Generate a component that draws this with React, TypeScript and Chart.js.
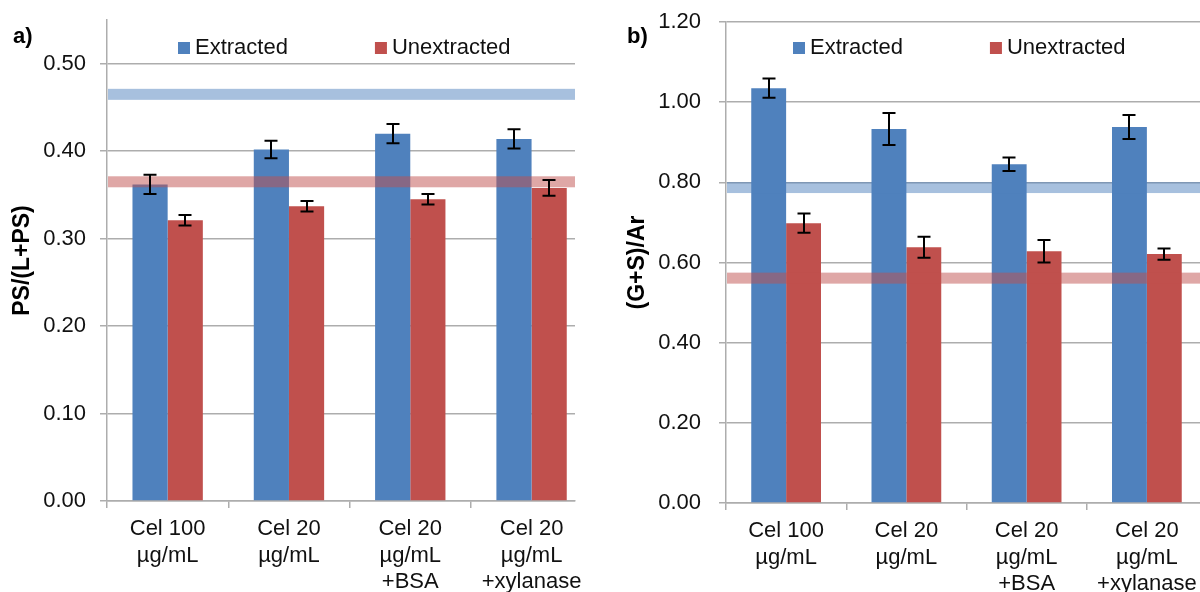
import React, { useEffect, useRef } from "react";
import { Chart, registerables } from "chart.js";

Chart.register(...registerables);

// ---------- data ----------
const categories = [
  ["Cel 100", "µg/mL"],
  ["Cel 20", "µg/mL"],
  ["Cel 20", "µg/mL", "+BSA"],
  ["Cel 20", "µg/mL", "+xylanase"],
];
const seriesNames = ["Extracted", "Unextracted"];

// panel a) PS/(L+PS)
const psExtracted = [0.362, 0.402, 0.42, 0.414];
const psExtractedErr = [0.011, 0.01, 0.011, 0.011];
const psUnextracted = [0.321, 0.337, 0.345, 0.358];
const psUnextractedErr = [0.006, 0.006, 0.006, 0.009];
const psReference = [0.465, 0.365]; // extracted, unextracted reference levels
const psAxis = { min: 0, max: 0.55, step: 0.1 };

// panel b) (G+S)/Ar
const gsExtracted = [1.035, 0.933, 0.845, 0.938];
const gsExtractedErr = [0.024, 0.04, 0.017, 0.03];
const gsUnextracted = [0.698, 0.638, 0.628, 0.621];
const gsUnextractedErr = [0.024, 0.026, 0.028, 0.014];
const gsReference = [0.787, 0.561];
const gsAxis = { min: 0, max: 1.2, step: 0.2 };

// ---------- styles ----------
const BLUE = "#4F81BD";
const RED = "#C0504D";
const BANDS = ["rgba(79,129,189,0.5)", "rgba(192,80,77,0.5)"];
const GRID = "#adadad";
const FONT = '"Liberation Sans", Arial, sans-serif';
const TEXT = "#111";

function makePlugin(refs: number[], errs: number[][], tag: string, tagX: number, legendOffset: number) {
  return {
    id: "decor",
    afterDatasetsDraw(chart: any) {
      const { ctx, chartArea: ca } = chart;
      const y = chart.scales.y;
      ctx.save();
      // reference bands
      refs.forEach((v, i) => {
        const py = y.getPixelForValue(v);
        ctx.fillStyle = BANDS[i];
        ctx.fillRect(ca.left + 1, py - 5.5, ca.right - ca.left - 1, 11);
      });
      // error bars
      ctx.strokeStyle = "#000";
      ctx.lineWidth = 2;
      chart.data.datasets.forEach((ds: any, di: number) => {
        const meta = chart.getDatasetMeta(di);
        meta.data.forEach((bar: any, i: number) => {
          const v = ds.data[i];
          const e = errs[di][i];
          const x = Math.round(bar.x);
          const t = y.getPixelForValue(v + e);
          const b = y.getPixelForValue(v - e);
          ctx.beginPath();
          ctx.moveTo(x, t);
          ctx.lineTo(x, b);
          ctx.moveTo(x - 6.5, t);
          ctx.lineTo(x + 6.5, t);
          ctx.moveTo(x - 6.5, b);
          ctx.lineTo(x + 6.5, b);
          ctx.stroke();
        });
      });
      // legend
      ctx.font = `22px ${FONT}`;
      ctx.textBaseline = "alphabetic";
      let bx = ca.left + legendOffset;
      chart.data.datasets.forEach((ds: any) => {
        ctx.fillStyle = ds.backgroundColor;
        ctx.fillRect(bx, 42, 12, 12);
        ctx.fillStyle = TEXT;
        ctx.fillText(ds.label, bx + 17, 54);
        bx += 17 + ctx.measureText(ds.label).width + 87;
      });
      // panel tag
      ctx.font = `bold 22px ${FONT}`;
      ctx.fillStyle = "#000";
      ctx.fillText(tag, tagX, 43);
      ctx.restore();
    },
  };
}

function makeConfig(p: any) {
  return {
    type: "bar",
    data: {
      labels: categories,
      datasets: [
        { label: seriesNames[0], data: p.ext, backgroundColor: BLUE },
        { label: seriesNames[1], data: p.unext, backgroundColor: RED },
      ],
    },
    options: {
      animation: false,
      responsive: false,
      maintainAspectRatio: false,
      events: [],
      layout: { padding: { left: p.padLeft, right: p.padRight, top: p.padTop, bottom: 0 } },
      datasets: { bar: { categoryPercentage: 0.58, barPercentage: 1 } },
      plugins: { legend: { display: false }, tooltip: { enabled: false } },
      scales: {
        x: {
          grid: { offset: true, drawOnChartArea: false, drawTicks: true, tickLength: 7, color: GRID, lineWidth: 1.5 },
          border: { color: GRID, width: 1.5 },
          ticks: { font: { family: FONT, size: 22, lineHeight: 1.2 }, color: TEXT, padding: 8, maxRotation: 0, autoSkip: false },
          afterFit: (s: any) => {
            s.height = p.xHeight;
          },
          afterBuildTicks: (s: any) => {
            if (p.xRange) s._valueRange = p.xRange;
          },
        },
        y: {
          min: p.axis.min,
          max: p.axis.max,
          ticks: {
            stepSize: p.axis.step,
            includeBounds: false,
            callback: (v: number) => Number(v).toFixed(2),
            font: { family: FONT, size: 22 },
            color: TEXT,
            padding: p.yPad,
          },
          grid: { color: GRID, lineWidth: 1.5, tickLength: 7 },
          border: { color: GRID, width: 1.5 },
          title: {
            display: true,
            text: p.title,
            font: { family: FONT, size: 23, weight: "bold", lineHeight: 1.2 },
            color: "#000",
            padding: { top: 4, bottom: 4 },
          },
          afterFit: (s: any) => {
            s.width = p.yWidth;
            s.paddingTop = 0;
            s.paddingBottom = 0;
          },
        },
      },
    },
    plugins: [makePlugin(p.refs, p.errs, p.tag, p.tagX, p.legendOffset)],
  };
}

function Panel(props: any) {
  const ref = useRef<HTMLCanvasElement>(null);
  useEffect(() => {
    const chart = new Chart(ref.current as any, makeConfig(props.cfg) as any);
    return () => chart.destroy();
  }, []);
  return (
    <canvas
      ref={ref}
      width={props.width}
      height={592}
      style={{ position: "absolute", left: props.left, top: 0, width: props.width, height: 592, display: "block" }}
    />
  );
}

const panelA = {
  ext: psExtracted,
  unext: psUnextracted,
  errs: [psExtractedErr, psUnextractedErr],
  refs: psReference,
  axis: psAxis,
  title: "PS/(L+PS)",
  tag: "a)",
  tagX: 13,
  padLeft: 5,
  yWidth: 102,
  padRight: 25,
  padTop: 20,
  xHeight: 91,
  yPad: 14,
  xRange: 3.858,
  legendOffset: 71,
};

const panelB = {
  ext: gsExtracted,
  unext: gsUnextracted,
  errs: [gsExtractedErr, gsUnextractedErr],
  refs: gsReference,
  axis: gsAxis,
  title: "(G+S)/Ar",
  tag: "b)",
  tagX: 27,
  padLeft: 20,
  yWidth: 106,
  padRight: 13,
  padTop: 22,
  xHeight: 89,
  yPad: 18,
  xRange: 0,
  legendOffset: 67,
};

export default function App() {
  return (
    <div
      style={{
        position: "fixed",
        left: 0,
        top: 0,
        width: 1200,
        height: 592,
        overflow: "hidden",
        background: "#fff",
      }}
    >
      <Panel cfg={panelA} left={0} width={600} />
      <Panel cfg={panelB} left={600} width={620} />
    </div>
  );
}
